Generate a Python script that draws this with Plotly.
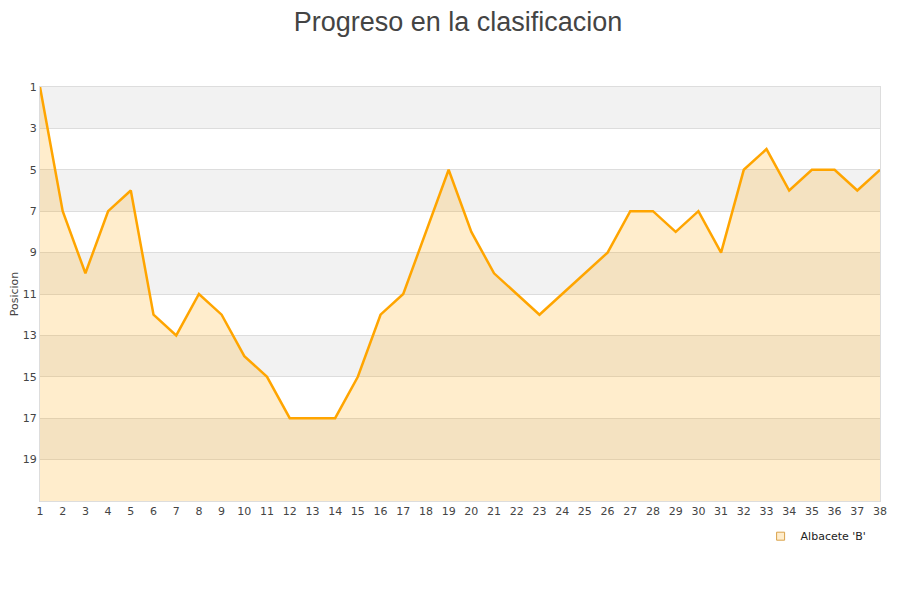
import plotly.graph_objects as go

jornadas = list(range(1, 39))
posiciones = [1, 7, 10, 7, 6, 12, 13, 11, 12, 14, 15, 17, 17, 17, 15, 12, 11, 8, 5, 8,
              10, 11, 12, 11, 10, 9, 7, 7, 8, 7, 9, 5, 4, 6, 5, 5, 6, 5]
equipo = "Albacete 'B'"
y_ticks = [1, 3, 5, 7, 9, 11, 13, 15, 17, 19]
y_min, y_max = 1, 21

fig = go.Figure()

# alternating bands
for i, t in enumerate(y_ticks):
    if i % 2 == 0:
        fig.add_shape(type="rect", xref="paper", yref="y", x0=0, x1=1, y0=t, y1=t + 2,
                      fillcolor="#f2f2f2", line_width=0, layer="below")

fig.add_trace(go.Scatter(x=jornadas, y=[y_max] * len(jornadas), mode="lines",
                         line=dict(width=0), showlegend=False, hoverinfo="skip"))
fig.add_trace(go.Scatter(x=jornadas, y=posiciones, mode="lines", fill="tonexty",
                         fillcolor="rgba(255,165,0,0.2)",
                         line=dict(color="#ffa500", width=2.5), showlegend=False,
                         name=equipo))
fig.add_trace(go.Scatter(x=[None], y=[None], mode="markers", name=equipo,
                         marker=dict(symbol="square", size=8, color="rgba(255,165,0,0.2)",
                                     line=dict(color="#d9a24a", width=1))))

fig.update_layout(
    width=900, height=600,
    paper_bgcolor="white", plot_bgcolor="white",
    margin=dict(l=32, r=28, t=79, b=107),
    title=dict(text="Progreso en la clasificacion", x=0.5, xanchor="center", y=0.993, yanchor="top",
               pad=dict(t=0, b=0),
               font=dict(family="Liberation Sans, Arial", size=27, color="#444")),
    font=dict(family="DejaVu Sans, Arial", size=11, color="#444"),
    legend=dict(x=0.99, xanchor="right", y=-0.05, yanchor="top", orientation="h",
                font=dict(size=11, color="#222"), bgcolor="rgba(0,0,0,0)", itemwidth=30),
    showlegend=True,
)
fig.update_xaxes(range=[1, 38], tickmode="array", tickvals=jornadas, showgrid=False,
                 showline=True, linecolor="#ddd", mirror=True, zeroline=False,
                 ticks="", tickfont=dict(size=11, color="#444"))
fig.update_yaxes(range=[y_max, y_min], tickmode="array", tickvals=y_ticks, automargin=False,
                 showgrid=True, gridcolor="#ddd", showline=True, linecolor="#ddd", mirror=True,
                 zeroline=False, ticks="", tickfont=dict(size=11, color="#444"),
                 title=dict(text="Posicion", font=dict(size=11, color="#444"), standoff=2))

fig.write_html("out.html")
